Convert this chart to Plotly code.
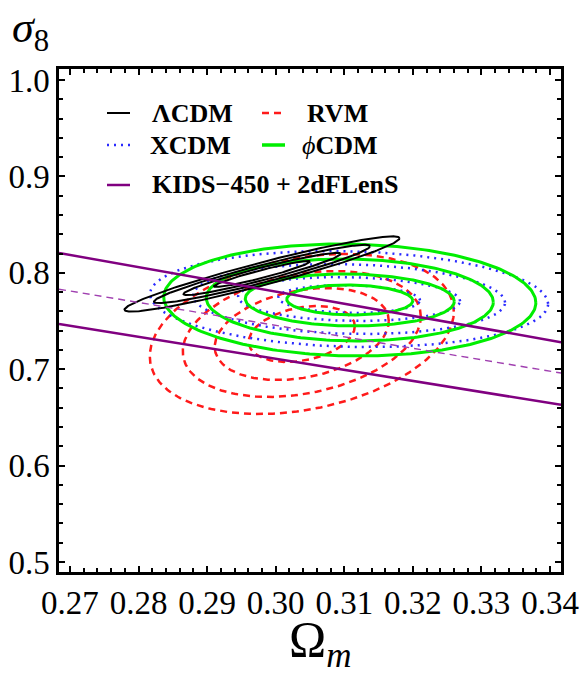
import numpy as np
import plotly.graph_objects as go

# ---------------- data ----------------
# Confidence contours: each model has nested ellipses described by
# centre, half-extent in Omega_m (rx), half-extent in sigma_8 (ry), correlation rho
lcdm_center = (0.2980, 0.7988)
lcdm_rx = [0.0070, 0.01145, 0.01575, 0.02005]
lcdm_ry = [0.0135, 0.0219, 0.0302, 0.0390]
lcdm_rho = 0.95

rvm_center = (0.3038, 0.7365)
rvm_rx = [0.00773, 0.01269, 0.01735, 0.02217]
rvm_ry = [0.0290, 0.0477, 0.0653, 0.0830]
rvm_rho = 0.28

xcdm_center = (0.3107, 0.7728)
xcdm_rx = [0.01035, 0.01619, 0.02275, 0.02902]
xcdm_ry = [0.0145, 0.0228, 0.0363, 0.0498]
xcdm_rho = -0.10

phicdm_center = (0.3108, 0.7718)
phicdm_rx = [0.00919, 0.01524, 0.02093, 0.02713]
phicdm_ry = [0.0156, 0.0270, 0.0425, 0.0581]
phicdm_rho = -0.05

# KIDS-450 + 2dFLenS band (end points at the frame edges)
kids_om = [0.2684, 0.3416]
kids_upper = [0.8205, 0.728]
kids_central = [0.783, 0.696]
kids_lower = [0.747, 0.663]

x_ticks = [0.27, 0.28, 0.29, 0.30, 0.31, 0.32, 0.33, 0.34]
y_ticks = [0.5, 0.6, 0.7, 0.8, 0.9, 1.0]
x_range = [0.2684, 0.3416]
y_range = [0.4896, 1.0114]

# ---------------- figure ----------------
W, H = 588, 673
ML, MR, MT, MB = 59, 27, 69, 101
PW, PH = W - ML - MR, H - MT - MB

def px2paper(px, py):
    return (px - ML) / PW, (H - MB - py) / PH

def ellipse(c, rx, ry, rho, n=240):
    t = np.linspace(0, 2 * np.pi, n)
    x = c[0] + rx * np.cos(t)
    y = c[1] + ry * (rho * np.cos(t) + np.sqrt(1 - rho ** 2) * np.sin(t))
    return x, y

fig = go.Figure()

def add_model(center, rxs, rys, rho, color, width, dash):
    for rx, ry in zip(rxs, rys):
        x, y = ellipse(center, rx, ry, rho)
        fig.add_trace(go.Scatter(x=x, y=y, mode="lines", showlegend=False,
                                 line=dict(color=color, width=width, dash=dash),
                                 hoverinfo="skip"))

add_model(rvm_center, rvm_rx, rvm_ry, rvm_rho, "#ff1a1a", 2.5, "7px,5px")
add_model(xcdm_center, xcdm_rx, xcdm_ry, xcdm_rho, "#2a2aff", 2.5, "2px,5px")
add_model(phicdm_center, phicdm_rx, phicdm_ry, phicdm_rho, "#00ee00", 3, "solid")
add_model(lcdm_center, lcdm_rx, lcdm_ry, lcdm_rho, "black", 2, "solid")

PURPLE = "#800080"
fig.add_trace(go.Scatter(x=kids_om, y=kids_upper, mode="lines", showlegend=False,
                         line=dict(color=PURPLE, width=2.5)))
fig.add_trace(go.Scatter(x=kids_om, y=kids_lower, mode="lines", showlegend=False,
                         line=dict(color=PURPLE, width=2.5)))
fig.add_trace(go.Scatter(x=kids_om, y=kids_central, mode="lines", showlegend=False,
                         line=dict(color="#a040b0", width=1.4, dash="7px,5px")))

# ---------------- manual legend ----------------
SERIF = "Liberation Serif, Times New Roman, serif"
legend_items = [
    (107, 130, 113, 150, "<b>ΛCDM</b>", "black", 2, "solid"),
    (262, 285, 113, 305, "<b>RVM</b>", "#ff1a1a", 2.5, "7px,5px"),
    (107, 130, 145, 148, "<b>XCDM</b>", "#2a2aff", 2.5, "2px,5px"),
    (262, 285, 145, 300, "<i>ϕ</i><b>CDM</b>", "#00ee00", 3.5, "solid"),
    (107, 130, 185, 150, "<b>KIDS−450 + 2dFLenS</b>", PURPLE, 2.5, "solid"),
]
shapes = []
annotations = []
for x0, x1, yy, tx, label, col, w, d in legend_items:
    a0, b0 = px2paper(x0, yy)
    a1, _ = px2paper(x1, yy)
    shapes.append(dict(type="line", xref="paper", yref="paper", x0=a0, x1=a1,
                       y0=b0, y1=b0, line=dict(color=col, width=w, dash=d)))
    ta, tb = px2paper(tx, yy)
    annotations.append(dict(xref="paper", yref="paper", x=ta, y=tb, text=label,
                            showarrow=False, xanchor="left", yanchor="middle",
                            font=dict(family=SERIF, size=26, color="black")))

# axis titles
sx, sy = px2paper(10, 30)
annotations.append(dict(xref="paper", yref="paper", x=sx, y=sy,
                        text="<i>σ</i><sub>8</sub>", showarrow=False,
                        xanchor="left", yanchor="middle",
                        font=dict(family=SERIF, size=44, color="black")))
ox, oy = px2paper(320, 643)
annotations.append(dict(xref="paper", yref="paper", x=ox, y=oy,
                        text="Ω<sub><i>m</i></sub>", showarrow=False,
                        xanchor="center", yanchor="middle",
                        font=dict(family=SERIF, size=50, color="black")))

axis_common = dict(showgrid=False, zeroline=False, showline=True, linecolor="black",
                   linewidth=2.5, mirror="allticks", ticks="inside", ticklen=6,
                   tickwidth=1.8, tickcolor="black", automargin=False,
                   tickfont=dict(family=SERIF, size=33, color="black"))

fig.update_layout(
    width=W, height=H, margin=dict(l=ML, r=MR, t=MT, b=MB, autoexpand=False),
    paper_bgcolor="white", plot_bgcolor="white",
    shapes=shapes, annotations=annotations, showlegend=False,
    xaxis=dict(range=x_range, tickmode="array", tickvals=x_ticks,
               ticktext=[f"{v:.2f}" for v in x_ticks],
               minor=dict(tick0=0.27, dtick=0.002, ticks="inside", ticklen=4,
                          tickwidth=1.5, tickcolor="black"),
               **axis_common),
    yaxis=dict(range=y_range, tickmode="array", tickvals=y_ticks,
               ticktext=[f"{v:.1f}" for v in y_ticks],
               minor=dict(tick0=0.5, dtick=0.02, ticks="inside", ticklen=4,
                          tickwidth=1.5, tickcolor="black"),
               **axis_common),
)

fig.write_html("out.html")
